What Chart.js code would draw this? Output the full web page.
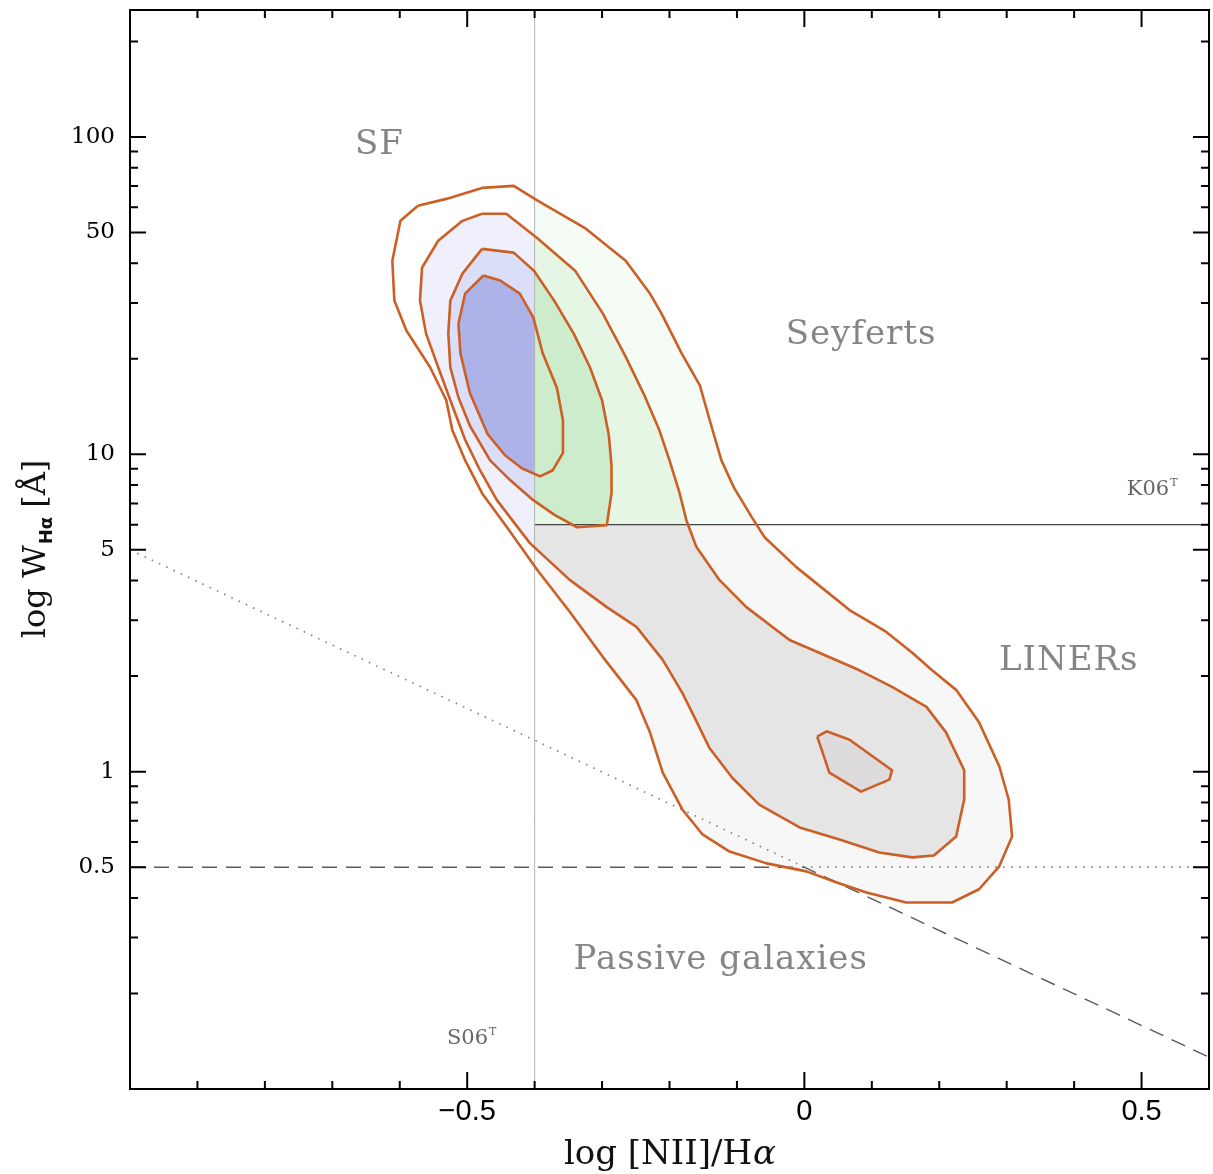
<!DOCTYPE html>
<html lang="en">
<head>
  <meta charset="UTF-8" />
  <title>WHAN diagram</title>
  <script src="https://cdn.jsdelivr.net/npm/chart.js"></script>
  <style>
    * { box-sizing: border-box; margin: 0; padding: 0; }
    body { background: #fff; width: 1213px; height: 1174px; overflow: hidden; }
  </style>
</head>
<body>
  <canvas id="whan" width="1213" height="1174"></canvas>

  <script>
    // density contours, outermost first: x = log [NII]/Hα, y = W_Hα in Å
    const contour1 = [
      {x:-0.573,y:60.7},{x:-0.531,y:63.8},{x:-0.478,y:69.1},{x:-0.431,y:70.1},{x:-0.395,y:62.9},
      {x:-0.324,y:51.4},{x:-0.265,y:40.7},{x:-0.229,y:32.1},{x:-0.212,y:27.8},{x:-0.182,y:20.8},
      {x:-0.155,y:16.5},{x:-0.138,y:12.3},{x:-0.123,y:9.57},{x:-0.104,y:7.82},{x:-0.078,y:6.34},
      {x:-0.059,y:5.48},{x:-0.012,y:4.41},{x:0.067,y:3.23},{x:0.121,y:2.76},{x:0.160,y:2.37},
      {x:0.189,y:2.09},{x:0.225,y:1.81},{x:0.259,y:1.43},{x:0.289,y:1.04},{x:0.303,y:0.817},
      {x:0.308,y:0.625},{x:0.289,y:0.503},{x:0.259,y:0.426},{x:0.219,y:0.387},{x:0.151,y:0.387},
      {x:0.092,y:0.416},{x:0.047,y:0.448},{x:0.003,y:0.485},{x:-0.056,y:0.514},{x:-0.111,y:0.560},
      {x:-0.151,y:0.634},{x:-0.181,y:0.760},{x:-0.210,y:0.993},{x:-0.229,y:1.33},{x:-0.249,y:1.68},
      {x:-0.299,y:2.30},{x:-0.348,y:3.19},{x:-0.396,y:4.32},{x:-0.441,y:5.89},{x:-0.478,y:7.54},
      {x:-0.503,y:9.57},{x:-0.522,y:11.9},{x:-0.531,y:14.8},{x:-0.555,y:18.8},{x:-0.590,y:24.5},
      {x:-0.608,y:30.5},{x:-0.611,y:40.7},{x:-0.599,y:54.4},{x:-0.573,y:60.7}
    ];
    const contour2 = [
      {x:-0.478,y:57.3},{x:-0.442,y:57.3},{x:-0.395,y:47.8},{x:-0.340,y:37.9},{x:-0.299,y:27.8},
      {x:-0.266,y:20.5},{x:-0.237,y:15.3},{x:-0.215,y:11.9},{x:-0.200,y:9.57},{x:-0.185,y:7.54},
      {x:-0.175,y:6.20},{x:-0.160,y:5.10},{x:-0.126,y:4.02},{x:-0.086,y:3.30},{x:-0.022,y:2.60},
      {x:0.022,y:2.37},{x:0.081,y:2.09},{x:0.130,y:1.85},{x:0.181,y:1.60},{x:0.210,y:1.33},
      {x:0.237,y:1.01},{x:0.237,y:0.817},{x:0.225,y:0.625},{x:0.192,y:0.544},{x:0.160,y:0.537},
      {x:0.111,y:0.556},{x:0.052,y:0.611},{x:-0.007,y:0.667},{x:-0.067,y:0.787},{x:-0.107,y:0.957},
      {x:-0.141,y:1.19},{x:-0.160,y:1.44},{x:-0.181,y:1.77},{x:-0.210,y:2.25},{x:-0.249,y:2.86},
      {x:-0.293,y:3.30},{x:-0.348,y:4.02},{x:-0.407,y:5.25},{x:-0.456,y:7.17},{x:-0.481,y:8.91},
      {x:-0.503,y:11.1},{x:-0.525,y:14.8},{x:-0.543,y:18.8},{x:-0.561,y:24.0},{x:-0.570,y:30.5},
      {x:-0.567,y:38.7},{x:-0.543,y:47.1},{x:-0.507,y:54.4},{x:-0.478,y:57.3}
    ];
    const contour3 = [
      {x:-0.478,y:44.4},{x:-0.431,y:43.2},{x:-0.401,y:37.9},{x:-0.371,y:30.5},{x:-0.342,y:24.0},
      {x:-0.318,y:18.8},{x:-0.300,y:14.8},{x:-0.290,y:11.5},{x:-0.286,y:9.24},{x:-0.286,y:7.54},
      {x:-0.293,y:5.98},{x:-0.337,y:5.89},{x:-0.370,y:6.43},{x:-0.402,y:7.17},{x:-0.436,y:8.28},
      {x:-0.466,y:9.57},{x:-0.496,y:12.3},{x:-0.513,y:15.1},{x:-0.525,y:18.8},{x:-0.528,y:24.0},
      {x:-0.525,y:30.5},{x:-0.507,y:37.1},{x:-0.478,y:44.4}
    ];
    const contour4 = [
      {x:-0.476,y:36.6},{x:-0.451,y:35.3},{x:-0.422,y:32.1},{x:-0.402,y:27.0},{x:-0.388,y:20.8},
      {x:-0.367,y:16.2},{x:-0.358,y:12.8},{x:-0.358,y:10.1},{x:-0.373,y:8.91},{x:-0.392,y:8.52},
      {x:-0.419,y:9.04},{x:-0.444,y:9.93},{x:-0.470,y:11.6},{x:-0.496,y:15.6},{x:-0.510,y:20.8},
      {x:-0.513,y:25.8},{x:-0.503,y:32.1},{x:-0.476,y:36.6}
    ];
    const contour5 = [
      {x:0.019,y:1.29},{x:0.033,y:1.34},{x:0.067,y:1.26},{x:0.130,y:1.01},{x:0.126,y:0.944},
      {x:0.084,y:0.865},{x:0.037,y:0.993},{x:0.027,y:1.15},{x:0.019,y:1.29}
    ];

    // class boundaries
    const sfDivide = [{x:-0.4,y:0.1},{x:-0.4,y:251.2}];
    const seyfertLiner = [{x:-0.4,y:6},{x:0.6,y:6}];
    const passiveDashed = [{x:-1,y:0.5},{x:0,y:0.5},{x:0.6,y:0.126}];
    const passiveDotted = [{x:-1,y:5},{x:0,y:0.5},{x:0.6,y:0.5}];

    // axis ticks
    const xTicks = [-0.9,-0.8,-0.7,-0.6,-0.5,-0.4,-0.3,-0.2,-0.1,0,0.1,0.2,0.3,0.4,0.5];
    const xLabels = [-0.5, 0, 0.5];
    const yTicks = [0.2,0.3,0.4,0.5,0.6,0.7,0.8,0.9,1,2,3,4,5,6,7,8,9,10,20,30,40,50,60,70,80,90,100,200];
    const yLabels = [0.5, 1, 5, 10, 50, 100];

    const regionNames = [
      { text: "SF", x: -0.630, y: 88.4 },
      { text: "Seyferts", x: 0.084, y: 22.3 },
      { text: "LINERs", x: 0.392, y: 2.09 },
      { text: "Passive galaxies", x: -0.124, y: 0.238 }
    ];

    const ORANGE = "#cc5f26";

    // translucent colouring of the point cloud, per class region
    const shading = [
      { set: 1, region: "sf",  color: "rgba(120,135,230,0.12)" },
      { set: 2, region: "sf",  color: "rgba(100,115,220,0.14)" },
      { set: 3, region: "sf",  color: "rgba(65,75,200,0.30)" },
      { set: 0, region: "sey", color: "rgba(90,200,90,0.06)" },
      { set: 1, region: "sey", color: "rgba(70,190,70,0.09)" },
      { set: 2, region: "sey", color: "rgba(50,170,50,0.14)" },
      { set: 0, region: "lin", color: "rgba(125,120,115,0.06)" },
      { set: 1, region: "lin", color: "rgba(110,100,95,0.12)" },
      { set: 4, region: "lin", color: "rgba(100,90,85,0.07)" }
    ];

    function contourSet(data) {
      return { data, showLine: true, borderColor: ORANGE, borderWidth: 2.6, pointRadius: 0, tension: 0, borderJoinStyle: "round" };
    }

    function richText(ctx, parts, x, y) {
      let total = 0;
      parts.forEach(p => { ctx.font = p.font; total += ctx.measureText(p.text).width + (p.gap || 0); });
      let cx = x - total / 2;
      parts.forEach(p => {
        ctx.font = p.font;
        ctx.fillText(p.text, cx, y + (p.dy || 0));
        cx += ctx.measureText(p.text).width + (p.gap || 0);
      });
    }

    const decor = {
      id: "decor",
      beforeDatasetsDraw(chart) {
        const { ctx, chartArea: a, scales: { x, y } } = chart;
        const xc = x.getPixelForValue(-0.4), yc = y.getPixelForValue(6);
        const rects = {
          sf: [a.left, a.top, xc - a.left, a.bottom - a.top],
          sey: [xc, a.top, a.right - xc, yc - a.top],
          lin: [xc, yc, a.right - xc, a.bottom - yc]
        };
        shading.forEach(s => {
          const pts = chart.getDatasetMeta(s.set).data;
          ctx.save();
          ctx.beginPath();
          ctx.rect(...rects[s.region]);
          ctx.clip();
          ctx.beginPath();
          pts.forEach((p, i) => i ? ctx.lineTo(p.x, p.y) : ctx.moveTo(p.x, p.y));
          ctx.closePath();
          ctx.fillStyle = s.color;
          ctx.fill();
          ctx.restore();
        });
      },
      afterDatasetsDraw(chart) {
        const { ctx, chartArea: a, scales: { x, y } } = chart;
        ctx.save();
        ctx.strokeStyle = "#000";
        ctx.lineWidth = 2;
        ctx.strokeRect(a.left, a.top, a.right - a.left, a.bottom - a.top);

        // inward ticks on all four sides
        ctx.beginPath();
        x.ticks.forEach(t => {
          const px = x.getPixelForValue(t.value);
          const len = xLabels.includes(t.value) ? 17 : 8;
          ctx.moveTo(px, a.bottom); ctx.lineTo(px, a.bottom - len);
          ctx.moveTo(px, a.top); ctx.lineTo(px, a.top + len);
        });
        y.ticks.forEach(t => {
          const py = y.getPixelForValue(t.value);
          const len = yLabels.includes(t.value) ? 16 : 8;
          ctx.moveTo(a.left, py); ctx.lineTo(a.left + len, py);
          ctx.moveTo(a.right, py); ctx.lineTo(a.right - len, py);
        });
        ctx.stroke();

        // class names
        ctx.fillStyle = "#858585";
        ctx.textAlign = "center";
        ctx.textBaseline = "alphabetic";
        ctx.font = "34px 'DejaVu Serif'";
        ctx.letterSpacing = "1px";
        regionNames.forEach(r => ctx.fillText(r.text, x.getPixelForValue(r.x), y.getPixelForValue(r.y)));
        ctx.letterSpacing = "0px";

        // line references
        ctx.fillStyle = "#666";
        ctx.textAlign = "left";
        const ref = (name, vx, vy) => {
          const px = x.getPixelForValue(vx), py = y.getPixelForValue(vy);
          ctx.font = "21px 'DejaVu Serif'";
          ctx.fillText(name, px, py);
          const w = ctx.measureText(name).width;
          ctx.font = "11px 'DejaVu Serif'";
          ctx.fillText("T", px + w + 1, py - 9);
        };
        ref("K06", 0.478, 7.43);
        ref("S06", -0.530, 0.1385);

        // axis titles
        ctx.fillStyle = "#111";
        ctx.textAlign = "left";
        richText(ctx, [
          { text: "log [NII]/H", font: "34px 'DejaVu Serif'", gap: 1 },
          { text: "α", font: "italic 34px 'DejaVu Serif'" }
        ], 670, 1164);

        ctx.translate(45, 549);
        ctx.rotate(-Math.PI / 2);
        richText(ctx, [
          { text: "log W", font: "32px 'DejaVu Serif'", gap: 1 },
          { text: "Hα", font: "bold 18px 'DejaVu Sans'", dy: 7, gap: 9 },
          { text: "[Å]", font: "32px 'DejaVu Serif'" }
        ], 0, 0);
        ctx.restore();
      }
    };

    new Chart(document.getElementById("whan"), {
      type: "scatter",
      data: {
        datasets: [
          contourSet(contour1),
          contourSet(contour2),
          contourSet(contour3),
          contourSet(contour4),
          contourSet(contour5),
          { data: sfDivide, showLine: true, borderColor: "#b4b4b4", borderWidth: 1, pointRadius: 0, order: 1 },
          { data: seyfertLiner, showLine: true, borderColor: "#444", borderWidth: 1.3, pointRadius: 0, order: 1 },
          { data: passiveDashed, showLine: true, borderColor: "#5a5a5a", borderWidth: 1.4, borderDash: [15, 9], pointRadius: 0, order: 1 },
          { data: passiveDotted, showLine: true, borderColor: "#808080", borderWidth: 1.7, borderDash: [1.5, 6.5], pointRadius: 0, order: 1 }
        ]
      },
      options: {
        responsive: false,
        animation: false,
        devicePixelRatio: 1,
        layout: { padding: { top: 10, right: 4, left: 0, bottom: 0 } },
        plugins: { legend: { display: false }, tooltip: { enabled: false } },
        scales: {
          x: {
            type: "linear", min: -1, max: 0.6,
            afterBuildTicks: s => { s.ticks = xTicks.map(v => ({ value: v })); },
            afterFit: s => { s.height = 85; s.paddingLeft = 0; s.paddingRight = 0; },
            grid: { display: false, drawTicks: false },
            border: { display: false },
            ticks: {
              autoSkip: false, maxRotation: 0, padding: 6, color: "#000",
              font: { family: "'Liberation Sans'", size: 29 },
              callback: v => xLabels.includes(v) ? (v < 0 ? "\u2212" + Math.abs(v) : String(v)) : ""
            }
          },
          y: {
            type: "logarithmic", min: 0.1, max: 251.2,
            afterBuildTicks: s => { s.ticks = yTicks.map(v => ({ value: v })); },
            afterFit: s => { s.width = 130; s.paddingTop = 0; s.paddingBottom = 0; },
            grid: { display: false, drawTicks: false },
            border: { display: false },
            ticks: {
              autoSkip: false, padding: 15, color: "#000",
              font: { family: "'DejaVu Serif'", size: 23 },
              callback: v => yLabels.includes(v) ? String(v) : ""
            }
          }
        }
      },
      plugins: [decor]
    });
  </script>
</body>
</html>
